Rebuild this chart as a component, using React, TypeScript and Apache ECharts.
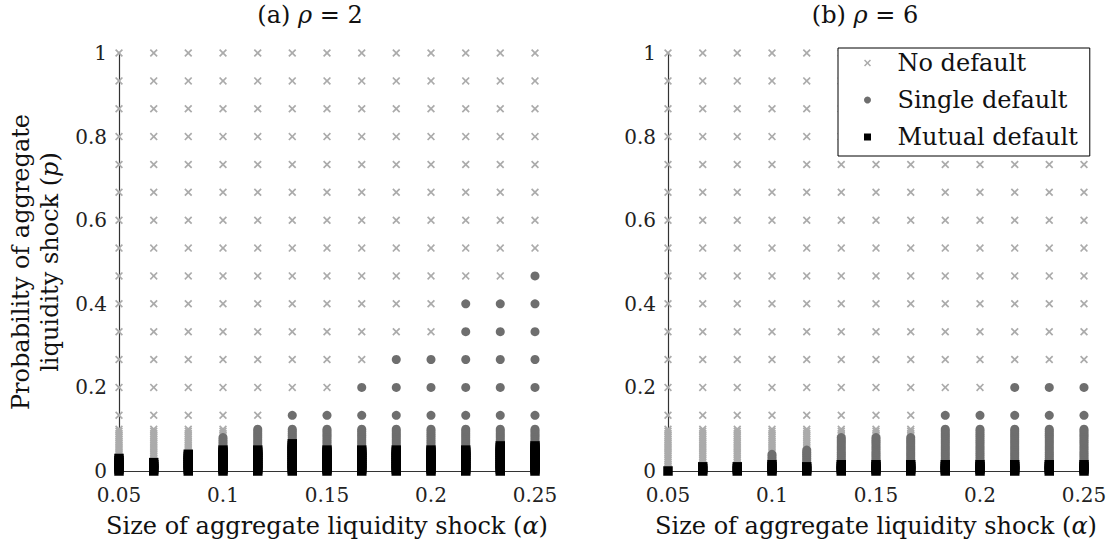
import React, { useEffect, useRef } from "react";
import * as echarts from "echarts";

// Size of aggregate liquidity shock (alpha) – columns of the grid
const alphaValues = [0.05, 0.0667, 0.0833, 0.1, 0.1167, 0.1333, 0.15, 0.1667, 0.1833, 0.2, 0.2167, 0.2333, 0.25];
// Probability grid: fine near zero, coarse above
const pFine = [0, 0.005, 0.01, 0.015, 0.02, 0.025, 0.03, 0.035, 0.04, 0.045, 0.05, 0.055, 0.06, 0.065, 0.07, 0.075, 0.08, 0.085, 0.09, 0.095, 0.1];
const pCoarse = [0.1333, 0.2, 0.2667, 0.3333, 0.4, 0.4667, 0.5333, 0.6, 0.6667, 0.7333, 0.8, 0.8667, 0.9333, 1];

// Panel (a) rho = 2: largest p in each column giving mutual / single default
const mutualMaxA = [0.03, 0.02, 0.04, 0.05, 0.05, 0.065, 0.05, 0.05, 0.05, 0.05, 0.05, 0.06, 0.06];
const singleMaxA = [0.03, 0.02, 0.04, 0.08, 0.1, 0.1333, 0.1333, 0.2, 0.2667, 0.2667, 0.4, 0.4, 0.4667];
// Panel (b) rho = 6
const mutualMaxB = [0, 0.01, 0.01, 0.015, 0.01, 0.015, 0.015, 0.015, 0.015, 0.015, 0.015, 0.015, 0.015];
const singleMaxB = [0, 0.01, 0.01, 0.04, 0.05, 0.08, 0.08, 0.08, 0.1333, 0.1333, 0.2, 0.2, 0.2];

const seriesNames = ["No default", "Single default", "Mutual default"];
const xTitle = "Size of aggregate liquidity shock ({i|α})";
const yTitle = "Probability of aggregate\nliquidity shock ({i|p})";
const panelTitles = ["(a) {i|ρ} = 2", "(b) {i|ρ} = 6"];

const FONT = "DejaVu Serif";
const CROSS =
  "path://M1.5,0 L5,3.5 L8.5,0 L10,1.5 L6.5,5 L10,8.5 L8.5,10 L5,6.5 L1.5,10 L0,8.5 L3.5,5 L0,1.5 Z";
const SQUARE = "path://M0,0 L10,0 L10,10 L0,10 Z";
const COLORS = ["#ababab", "#6e6e6e", "#000000"];
const NAME_SIZE = 24;

function classify(mutualMax: number[], singleMax: number[]) {
  const groups: number[][][] = [[], [], []];
  const allP = [...pFine, ...pCoarse];
  alphaValues.forEach((a, i) => {
    allP.forEach((p) => {
      let k = 0;
      if (p <= mutualMax[i] + 1e-9) k = 2;
      else if (p <= singleMax[i] + 1e-9) k = 1;
      groups[k].push([a, p]);
    });
  });
  return groups;
}

const rich = { i: { fontStyle: "italic", fontFamily: FONT, fontSize: NAME_SIZE, color: "#111" } };

export default function App() {
  const ref = useRef<HTMLDivElement>(null);
  useEffect(() => {
    if (!ref.current) return;
    const chart = echarts.init(ref.current, undefined, { renderer: "svg" });
    const panels = [classify(mutualMaxA, singleMaxA), classify(mutualMaxB, singleMaxB)];
    const grids = [
      { left: 119, top: 53, width: 416, height: 418 },
      { left: 668, top: 53, width: 416, height: 418 },
    ];
    const xAxes = grids.map((_, gi) => ({
      gridIndex: gi,
      type: "value",
      min: 0.05,
      max: 0.25,
      interval: 0.05,
      axisLine: { show: true, onZero: false, lineStyle: { color: "#333", width: 1.2 } },
      axisTick: { show: false },
      splitLine: { show: false },
      axisLabel: {
        fontFamily: FONT,
        fontSize: 20,
        color: "#222",
        margin: 14,
        formatter: (v: number) => String(+v.toFixed(2)),
      },
      name: xTitle,
      nameLocation: "middle",
      nameGap: 43,
      nameTextStyle: { fontFamily: FONT, fontSize: NAME_SIZE, color: "#111", rich },
    }));
    const yAxes = grids.map((_, gi) => ({
      gridIndex: gi,
      type: "value",
      min: 0,
      max: 1,
      interval: 0.2,
      axisLine: { show: true, onZero: false, lineStyle: { color: "#333", width: 1.2 } },
      axisTick: { show: false },
      splitLine: { show: false },
      axisLabel: {
        fontFamily: FONT,
        fontSize: 20,
        color: "#222",
        margin: 12,
        formatter: (v: number) => String(+v.toFixed(2)),
      },
      ...(gi === 0
        ? {
            name: yTitle,
            nameLocation: "middle",
            nameGap: 55,
            nameTextStyle: { fontFamily: FONT, fontSize: NAME_SIZE, color: "#111", lineHeight: 29, rich },
          }
        : {}),
    }));
    const symbols = [CROSS, "circle", SQUARE];
    const sizes = [8, 9, 9.5];
    const series: any[] = [];
    panels.forEach((groups, gi) => {
      groups.forEach((data, k) => {
        series.push({
          type: "scatter",
          name: seriesNames[k],
          xAxisIndex: gi,
          yAxisIndex: gi,
          data,
          symbol: symbols[k],
          symbolSize: sizes[k],
          itemStyle: { color: COLORS[k], opacity: 1 },
          clip: false,
          z: 2 + k,
        });
      });
    });
    chart.setOption({
      animation: false,
      backgroundColor: "#fff",
      title: panelTitles.map((t, i) => ({
        text: t,
        left: i === 0 ? 305 : 860,
        top: -2,
        textAlign: "center",
        textStyle: { fontFamily: FONT, fontSize: NAME_SIZE, fontWeight: "normal", color: "#111", rich },
      })),
      grid: grids,
      xAxis: xAxes,
      yAxis: yAxes,
      legend: {
        data: seriesNames,
        orient: "vertical",
        left: 838,
        top: 48,
        itemWidth: 50,
        itemHeight: 7,
        itemGap: 13,
        padding: [3, 12, 7, 26],
        borderColor: "#000",
        borderWidth: 1,
        backgroundColor: "#fff",
        selectedMode: false,
        textStyle: { fontFamily: FONT, fontSize: NAME_SIZE, color: "#111", lineHeight: 24 },
        z: 10,
      },
      series,
    });
    return () => chart.dispose();
  }, []);
  return (
    <div
      ref={ref}
      style={{ position: "absolute", left: 0, top: 0, width: 1112, height: 548 }}
    />
  );
}
